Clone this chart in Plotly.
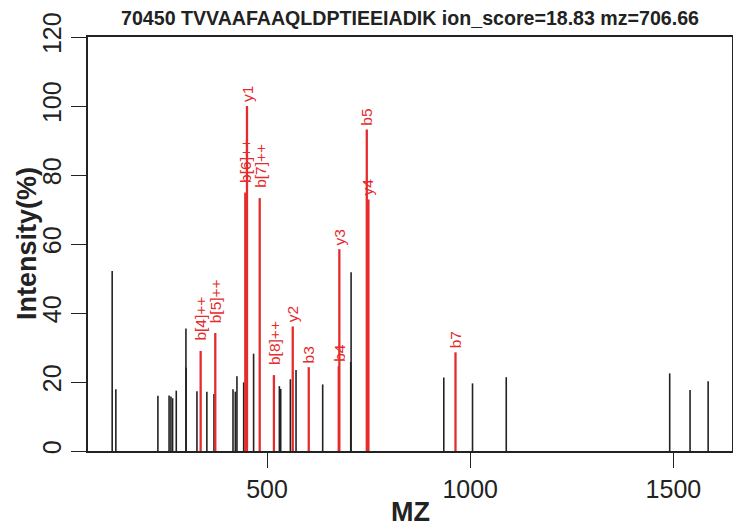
import plotly.graph_objects as go

# matched (red) and unmatched (black) peaks
black_mz = [119.0, 128.0, 231.5, 259.0, 263.6, 267.7, 276.7, 300.5, 301.0, 327.6,
            352.0, 369.5, 416.3, 422.0, 426.0, 442.6, 467.0, 530.4, 533.7, 557.5,
            571.4, 637.0, 706.9, 706.0, 935.0, 1005.7, 1088.7, 1490.9, 1541.0, 1585.5]
black_int = [52.2, 17.9, 16.0, 16.1, 15.8, 15.3, 17.5, 35.5, 24.1, 17.3,
             17.2, 16.5, 17.9, 17.2, 21.7, 19.9, 28.2, 18.8, 18.0, 20.8,
             23.5, 19.3, 51.8, 25.8, 21.3, 19.6, 21.4, 22.5, 17.7, 20.2]

ion_mz = [336.7, 372.7, 446.6, 450.7, 482.0, 517.0, 563.3, 602.7, 676.5, 678.0,
          745.5, 749.5, 963.8]
ion_int = [29.0, 34.2, 74.9, 100.0, 73.3, 22.0, 36.1, 24.3, 24.6, 58.5,
           93.2, 72.9, 28.6]
ion_lab = ["b[4]++", "b[5]++", "b[6]++", "y1", "b[7]++", "b[8]++", "y2", "b3", "b4", "y3",
           "b5", "y4", "b7"]

title = "70450 TVVAAFAAQLDPTIEEIADIK ion_score=18.83 mz=706.66"

RED = "#E52B2D"
INK = "#222222"
FONT = "Liberation Sans, Arial, sans-serif"


def sticks(xs, ys):
    # type="h" style: one vertical segment per peak
    sx, sy = [], []
    for x, y in zip(xs, ys):
        sx += [x, x, None]
        sy += [0, y, None]
    return sx, sy


bx, by = sticks(black_mz, black_int)
rx, ry = sticks(ion_mz, ion_int)

fig = go.Figure()
fig.add_trace(go.Scatter(x=bx, y=by, mode="lines", line=dict(color=INK, width=1.6),
                         hoverinfo="skip", showlegend=False))
fig.add_trace(go.Scatter(x=rx, y=ry, mode="lines", line=dict(color=RED, width=2.3),
                         hoverinfo="skip", showlegend=False))

for x, y, t in zip(ion_mz, ion_int, ion_lab):
    fig.add_annotation(x=x, y=y, text=t, textangle=-90, showarrow=False,
                       xanchor="center", yanchor="bottom", borderpad=0,
                       yshift=9 if "[" in t else 3,
                       font=dict(family=FONT, size=15.5, color=RED))

# axis titles
fig.add_annotation(xref="paper", yref="paper", x=0.5, y=0, yshift=-61,
                   text="<b>MZ</b>", showarrow=False, xanchor="center", yanchor="middle",
                   font=dict(family=FONT, size=27, color=INK))
fig.add_annotation(xref="paper", yref="paper", x=0, y=0.5, xshift=-61,
                   text="<b>Intensity(%)</b>", textangle=-90, showarrow=False,
                   xanchor="center", yanchor="middle",
                   font=dict(family=FONT, size=27, color=INK))

fig.update_layout(
    width=733, height=527,
    margin=dict(l=88, r=1, t=37, b=76, autoexpand=False),
    paper_bgcolor="white", plot_bgcolor="white",
    title=dict(text="<b>" + title + "</b>", x=0.5, xref="paper", y=1 - 18 / 527,
               yanchor="middle", font=dict(family=FONT, size=19.6, color=INK)),
    xaxis=dict(range=[59.5, 1644.2], tickvals=[500, 1000, 1500], ticks="outside",
               ticklen=15, tickwidth=1.3, tickcolor=INK, showgrid=False, zeroline=False,
               showline=True, mirror=True, linecolor=INK, linewidth=1.5, automargin=False,
               tickfont=dict(family=FONT, size=25, color=INK)),
    yaxis=dict(range=[0, 120], tickvals=[0, 20, 40, 60, 80, 100, 120], ticks="outside",
               ticklen=15, tickwidth=1.3, tickcolor=INK, showgrid=False, zeroline=False,
               showline=True, mirror=True, linecolor=INK, linewidth=1.5, tickangle=-90,
               automargin=False, tickfont=dict(family=FONT, size=25, color=INK)),
)

# the page body has a default 8px margin; drop it so the figure sits at the corner
fig.write_html("out.html", config={"displayModeBar": False},
               post_script="document.body.style.margin='0px';")
